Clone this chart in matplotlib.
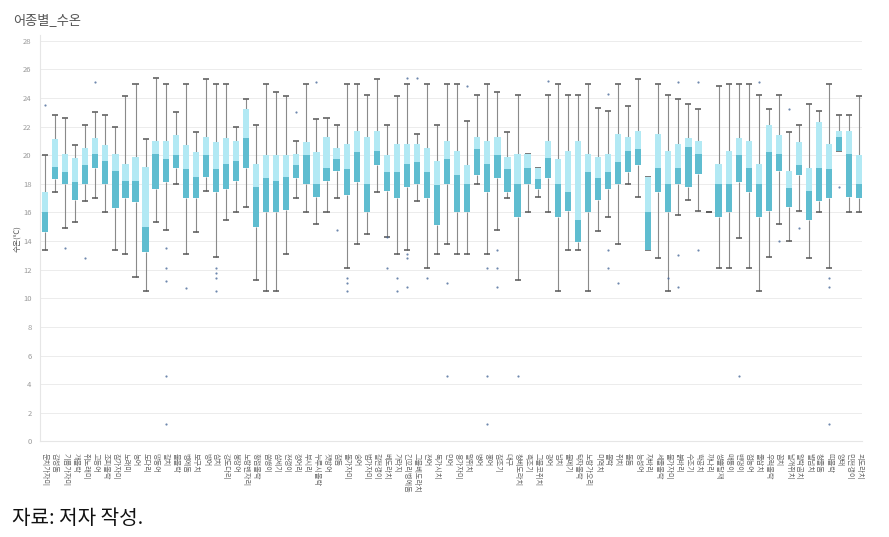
import matplotlib
matplotlib.use('Agg')
import matplotlib.pyplot as plt

plt.rcParams['font.family'] = ['Noto Sans CJK KR', 'DejaVu Sans']

# species names (labels are tiny in the source, approximated)
species = ['문치가자미', '감성돔', '기름가자미', '개볼락', '쥐노래미', '고등어', '조피볼락', '참가자미',
           '노래미', '농어', '도다리', '망둥어', '갈치', '불볼락', '벵에돔', '보구치', '방어', '삼치',
           '강도다리', '붕장어', '노랑벤자리', '황점볼락', '쏨뱅이', '삼세기', '전갱이', '정어리', '부시리',
           '누루시볼락', '잿방어', '참돔', '돌가자미', '숭어', '범가자미', '갈전갱이', '베도라치', '가라지',
           '긴꼬리벵에돔', '그물베도라치', '전어', '독가시치', '민어', '용가자미', '말쥐치', '병어', '홍어',
           '참조기', '대구', '청베도라치', '흑조기', '그물코쥐치', '광어', '넙치', '물메기', '탁자볼락',
           '노랑가오리', '미역치', '볼락', '쥐치', '돌돔', '능성어', '자바리', '세줄볼락', '물가자미',
           '붉바리', '수조기', '학공치', '까나리', '쌍뿔달재', '매퉁이', '밴댕이', '점농어', '줄삼치',
           '우럭볼락', '꼼치', '날개쥐치', '알락곰치', '별넙치', '청줄돔', '띠볼락', '양태', '민전갱이', '괴도라치']

whisker_lo = [13.4, 17.4, 14.9, 15.3, 16.8, 17.0, 16.0, 13.4, 13.1, 11.5, 10.5, 15.3, 14.8, 18.0,
              13.1, 14.6, 17.5, 12.9, 15.5, 16.0, 16.4, 11.3, 10.5, 10.5, 13.1, 17.0, 16.0, 15.2,
              16.0, 17.0, 12.1, 13.8, 14.5, 17.4, 14.3, 13.1, 13.4, 16.8, 12.1, 13.1, 13.8, 13.1,
              13.1, 18.0, 13.1, 14.8, 17.0, 11.3, 16.0, 17.1, 16.0, 10.5, 13.4, 13.4, 10.5, 14.7,
              15.7, 13.8, 18.0, 17.1, 13.4, 12.8, 10.5, 15.8, 16.9, 16.1, 16.0, 12.1, 12.1, 14.2,
              12.1, 10.5, 12.9, 15.2, 14.0, 16.1, 12.8, 16.0, 12.1, 20.3, 16.0, 16.0]
q1 = [14.6, 18.3, 18.0, 16.9, 18.0, 19.1, 18.0, 16.3, 17.0, 16.7, 13.2, 17.6, 18.1, 19.1,
      17.0, 17.0, 18.5, 17.4, 17.6, 18.2, 19.1, 15.0, 16.0, 16.0, 16.2, 18.4, 18.0, 17.1,
      18.2, 18.9, 17.2, 18.1, 16.0, 19.3, 17.5, 17.0, 17.8, 18.0, 17.0, 15.1, 18.0, 16.0,
      16.0, 18.6, 17.4, 18.4, 17.4, 15.7, 18.0, 17.6, 18.4, 15.7, 16.1, 13.9, 16.0, 16.9,
      17.6, 18.0, 18.8, 19.3, 13.4, 17.4, 16.0, 18.0, 17.8, 18.7, 16.0, 15.7, 16.0, 18.1,
      17.4, 15.7, 16.1, 18.9, 16.4, 18.6, 15.5, 16.8, 17.0, 20.3, 17.1, 17.0]
median = [16.0, 19.2, 18.8, 18.1, 19.3, 20.1, 19.6, 18.9, 18.2, 18.2, 15.0, 20.1, 19.7, 20.0,
          19.0, 18.5, 20.0, 19.0, 19.4, 19.6, 21.2, 17.8, 18.4, 18.2, 18.5, 19.3, 20.0, 18.0,
          19.1, 19.7, 19.0, 20.2, 18.0, 20.3, 18.8, 18.8, 19.4, 19.5, 18.8, 17.9, 19.7, 18.6,
          18.0, 20.4, 19.4, 20.0, 19.0, 18.0, 19.1, 18.3, 19.8, 18.0, 17.4, 15.5, 18.8, 18.4,
          18.8, 19.5, 20.3, 20.4, 16.0, 19.1, 18.0, 19.1, 20.6, 20.1, 16.0, 18.0, 18.0, 20.0,
          19.1, 18.0, 20.2, 20.1, 17.7, 19.3, 17.5, 19.1, 19.0, 21.3, 20.1, 18.0]
q3 = [17.4, 21.1, 20.1, 19.8, 20.5, 21.2, 20.7, 20.1, 19.4, 19.9, 19.2, 21.0, 21.0, 21.4,
      20.7, 20.2, 21.3, 20.9, 21.2, 21.0, 23.2, 19.4, 20.0, 20.0, 20.0, 20.1, 20.9, 20.2,
      21.3, 20.5, 20.8, 21.7, 21.3, 21.7, 20.0, 20.8, 20.8, 20.8, 20.5, 19.6, 21.0, 20.3,
      19.3, 21.3, 21.0, 21.3, 19.9, 20.1, 20.1, 19.1, 21.0, 19.7, 20.3, 21.0, 20.1, 19.9,
      20.1, 21.5, 21.3, 21.7, 18.5, 21.5, 20.3, 20.8, 21.2, 21.0, 16.0, 19.4, 20.3, 21.2,
      21.0, 19.4, 22.1, 21.4, 18.9, 20.9, 19.1, 22.3, 20.8, 21.7, 21.7, 20.0]
whisker_hi = [20.0, 22.8, 22.6, 20.7, 22.1, 23.0, 22.8, 22.0, 24.1, 25.0, 21.1, 25.4, 25.0, 23.0,
              25.0, 21.6, 25.3, 25.0, 25.0, 22.0, 23.9, 22.1, 25.0, 24.4, 24.1, 21.0, 25.0, 22.5,
              22.6, 22.1, 25.0, 25.0, 24.2, 25.3, 22.1, 24.1, 25.0, 21.5, 25.0, 22.1, 25.0, 25.0,
              22.4, 24.2, 25.0, 24.4, 21.6, 24.2, 20.1, 19.1, 24.2, 25.0, 24.2, 24.2, 25.0, 23.3,
              23.1, 25.0, 23.4, 25.3, 18.5, 25.0, 24.2, 23.9, 23.6, 23.2, 16.0, 24.8, 25.0, 25.0,
              25.0, 24.2, 23.2, 24.2, 21.6, 22.1, 23.6, 23.1, 25.0, 22.8, 22.8, 24.1]

# outlier points: (category index, value)
outlier_idx = [0, 2, 4, 5, 12, 12, 12, 14, 17, 17, 17, 17, 25, 27, 29, 30, 30, 30, 34, 34,
               35, 35, 36, 36, 36, 36, 37, 38, 40, 42, 44, 45, 45, 45, 50, 56, 56, 56, 57,
               62, 63, 63, 63, 65, 65, 71, 73, 74, 75, 78, 78, 79,
               12, 12, 40, 44, 44, 47, 69, 78]
outlier_val = [23.5, 13.5, 12.8, 25.1, 13.5, 12.1, 11.2, 10.7, 12.1, 11.8, 11.4, 10.5, 23.0, 25.1,
               14.8, 11.4, 11.1, 10.5, 14.3, 12.1, 11.4, 10.5, 25.4, 13.1, 12.8, 10.8, 25.4, 11.4,
               11.1, 24.8, 12.1, 13.4, 12.1, 10.8, 25.2, 24.3, 13.4, 12.1, 11.1,
               11.4, 25.1, 13.0, 10.8, 25.1, 13.4, 25.1, 14.0, 23.2, 14.9, 11.4, 10.8, 17.8,
               4.6, 1.2, 4.6, 4.6, 1.2, 4.6, 4.6, 1.2]

yticks = list(range(0, 29, 2))

fig = plt.figure(figsize=(8.89, 5.37), dpi=100)
ax = fig.add_axes([0.045, 0.178, 0.925, 0.757])

x = list(range(len(species)))
light = '#b2e9f4'
dark = '#5fbdd0'

# whiskers
ax.vlines(x, whisker_lo, q1, color='#8a8a8a', lw=0.8, zorder=2)
ax.vlines(x, q3, whisker_hi, color='#8a8a8a', lw=0.8, zorder=2)
ax.hlines(whisker_lo, [i - 0.3 for i in x], [i + 0.3 for i in x], color='#555555', lw=1.1, zorder=3)
ax.hlines(whisker_hi, [i - 0.3 for i in x], [i + 0.3 for i in x], color='#555555', lw=1.1, zorder=3)

# two-tone boxes
lower_h = [m - a for m, a in zip(median, q1)]
upper_h = [b - m for b, m in zip(q3, median)]
ax.bar(x, lower_h, bottom=q1, width=0.62, color=dark, zorder=4, linewidth=0)
ax.bar(x, upper_h, bottom=median, width=0.62, color=light, zorder=4, linewidth=0)

ax.scatter(outlier_idx, outlier_val, s=2.5, color='#4a6a9a', alpha=0.8, lw=0, zorder=5)

ax.set_xlim(-0.5, 81.3)
ax.set_ylim(0, 28.4)
ax.set_yticks(yticks)
ax.set_yticklabels([str(t) for t in yticks], fontsize=5.5, color='#9a9a9a')
ax.set_xticks(x)
ax.set_xticklabels(species, rotation=270, fontsize=5.2, color='#6a6a6a', va='top', ha='center')
ax.tick_params(axis='both', length=0, pad=6)
ax.tick_params(axis='x', pad=8)
ax.grid(axis='y', color='#ececec', lw=0.7, zorder=0)
ax.set_axisbelow(True)
for s in ['top', 'right']:
    ax.spines[s].set_visible(False)
ax.spines['left'].set_color('#e6e6e6')
ax.spines['bottom'].set_color('#e6e6e6')
ax.set_ylabel('수온(℃)', fontsize=5.5, color='#555555', labelpad=1)

fig.text(0.015, 0.962, '어종별_수온', fontsize=9.5, color='#555555', va='center')
fig.text(0.013, 0.035, '자료: 저자 작성.', fontsize=14.5, color='#111111', va='center')

fig.savefig('out.png', dpi=100)
